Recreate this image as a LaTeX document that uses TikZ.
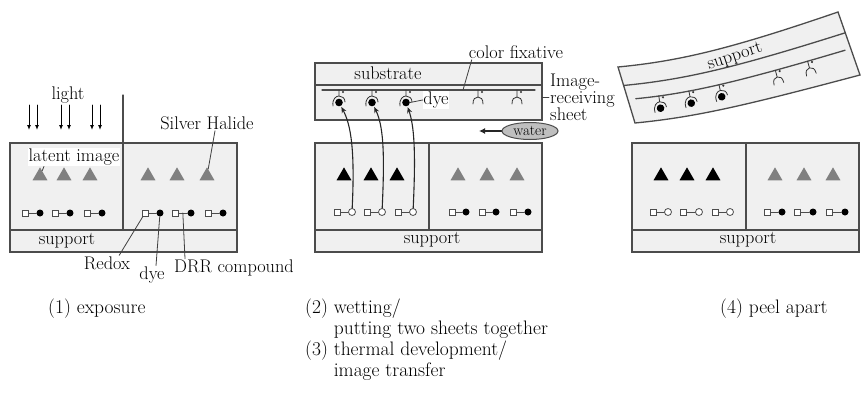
\documentclass[tikz,border=0pt]{standalone}
\usetikzlibrary{shapes.geometric,arrows.meta,calc}

\newcommand{\lblsize}{\fontsize{18.3}{17}\selectfont}
\newcommand{\capsize}{\fontsize{19.5}{21}\selectfont}

\begin{document}
\begin{tikzpicture}
		[x=1pt,y=-1pt,line cap=round,
		%Styles
		layer/.style={draw=black!70,fill=black!6,line width=1.3pt},
		sheet line/.style={draw=black!70,line width=1.3pt},
		grain/.style={regular polygon,regular polygon sides=3,fill=black!50,minimum size=17.3pt,inner sep=0pt},
		exposed/.style={grain,fill=black},
		redox/.style={rectangle,draw=black!70,fill=white,line width=0.8pt,minimum size=6pt,inner sep=0pt},
		dye dot/.style={circle,fill=black,minimum size=7pt,inner sep=0pt},
		spent/.style={circle,draw=black!70,fill=white,line width=0.8pt,minimum size=7pt,inner sep=0pt},
		link/.style={black!70,line width=1pt},
		info/.style={font=\lblsize,inner sep=1pt},
		caption/.style={font=\capsize,inner sep=0pt,align=left,anchor=north west},
		pointer/.style={black!75,line width=0.8pt},
		light ray/.style={line width=1pt,-{Latex[length=5pt,width=4pt]}},
		transfer/.style={black!85,line width=1.1pt,shorten >=5pt,-{Stealth[length=6pt,width=5pt]}},
		empty site/.pic={
			\draw[black!80,line width=0.8pt] (0,0) -- (0,7)
				(-5,14) .. controls (-5,9) and (-3,7) .. (0,7) .. controls (3,7) and (5,9) .. (5,14);
			\fill[black!80] (4,2) circle (1.2pt);},
		dyed site/.pic={
			\draw[black!80,line width=0.8pt] (0,0) -- (0,6)
				(-6,16) .. controls (-7,9) and (-3,6) .. (0,6) .. controls (3,6) and (6,8) .. (6,12);
			\fill[black!80] (4,2) circle (1.2pt);
			\fill (0,12.5) circle (3.8pt);
			\coordinate (-c) at (0,12.5);}
		]
		\useasboundingbox (0,0) rectangle (868,413);

		%(1) exposure
		\filldraw[layer] (10,143) rectangle (237,230);
		\filldraw[layer] (10,230) rectangle (237,252);
		\draw[sheet line] (123,95) -- (123,230);
		\foreach \x in {29,37,61,69,92,100}
			\draw[light ray] (\x,105) -- (\x,130);
		\foreach \x [count=\i] in {40,64,90,148,177,207}
			\node[grain] (t\i) at (\x,176) {};
		\foreach \s/\d [count=\i] in {25/40,55/70,87/102,145/160,175/191,208/223}{
			\node[redox] (a\i) at (\s,213) {};
			\node[dye dot] (b\i) at (\d,213) {};
			\draw[link] (a\i) -- coordinate (m\i) (b\i);
		}
		\node[info] (light) at (68,95) {light};
		\node[info,fill=white] (latent) at (74,157) {latent image};
		\node[info] (halide) at (207,123) {Silver Halide};
		\node[info] (sup1) at (67,241) {support};
		\node[info] (redoxlbl) at (107,263) {Redox};
		\node[info] (dyelbl) at (152,275) {dye};
		\node[info] (drr) at (234,268) {DRR compound};
		\draw[pointer] ([xshift=-30pt]latent.south) -- (t1);
		\draw[pointer] ([xshift=8pt]halide.south) -- (t6);
		\draw[pointer] ([xshift=-12pt]redoxlbl.north east) -- (a4);
		\draw[pointer] ([xshift=4pt]dyelbl.north) -- (b4);
		\draw[pointer] ([xshift=12pt]drr.north west) -- (m5);

		%(2)+(3) the two sheets
		\filldraw[layer] (315,63) rectangle (542,120);
		\draw[sheet line] (315,85) -- (542,85);
		\draw[sheet line] (322,90) -- (535,90);
		\foreach \x [count=\i] in {339,372,406}
			\pic (s\i) at (\x,90) {dyed site};
		\foreach \x in {478,517}
			\pic at (\x,90) {empty site};
		\node[info] (substr) at (388,73) {substrate};
		\node[info] (fixlbl) at (516,52) {color fixative};
		\node[info,fill=white,inner sep=0.5pt] (dyelbl2) at (436,100) {dye};
		\node[info,align=left,anchor=west] (recv) at (549,97) {Image-\\receiving\\sheet};
		\coordinate (fixpt) at (463,90);
		\coordinate (recvpt) at (542,97);
		\draw[pointer] ([xshift=4pt]fixlbl.south west) -- (fixpt);
		\draw[pointer] ([xshift=4pt]s3-c) -- (dyelbl2.west);
		\draw[pointer] (recvpt) -- (recv.west);
		\node[ellipse,draw=black!70,fill=black!25,line width=1pt,font=\fontsize{15}{16}\selectfont,
			minimum width=56pt,minimum height=17pt,inner sep=0pt] (water) at (530,131) {water};
		\coordinate (wtip) at (479,131);
		\draw[line width=1.2pt,black!85,-{Latex[length=6pt,width=6pt]}] (water) -- (wtip);

		\filldraw[layer] (315,143) rectangle (542,230);
		\filldraw[layer] (315,230) rectangle (542,252);
		\draw[sheet line] (429,143) -- (429,230);
		\foreach \x [count=\i] in {344,371,397}
			\node[exposed] (u\i) at (\x,176) {};
		\foreach \x [count=\i from 4] in {458,487,517}
			\node[grain] (u\i) at (\x,176) {};
		\foreach \s/\d [count=\i] in {337/352,367/382,398/413}{
			\node[redox] (c\i) at (\s,212) {};
			\node[spent] (h\i) at (\d,212) {};
			\draw[link] (c\i) -- (h\i);
		}
		\foreach \s/\d [count=\i from 4] in {452/466,482/496,513/528}{
			\node[redox] (c\i) at (\s,212) {};
			\node[dye dot] (d\i) at (\d,212) {};
			\draw[link] (c\i) -- (d\i);
		}
		\node[info] (sup2) at (432,240) {support};
		\draw[transfer] (h1) .. controls (355,150) and (351,125) .. (s1-c);
		\draw[transfer] (h2) .. controls (385,150) and (383,125) .. (s2-c);
		\draw[transfer] (h3) .. controls (416,150) and (414,125) .. (s3-c);

		%(4) peel apart
		\coordinate (TL) at (618,67);  \coordinate (BL) at (635,123);
		\coordinate (TR) at (838,12);  \coordinate (BR) at (860,75);
		\coordinate (C1t) at (680,61); \coordinate (C1b) at (697,117);
		\coordinate (C2t) at (730,49); \coordinate (C2b) at (747,105);
		\filldraw[layer] (TL) .. controls (C1t) and (C2t) .. (TR) -- (BR)
			.. controls (C2b) and (C1b) .. (BL) -- cycle;
		\draw[sheet line] ($(TL)!.33!(BL)$) .. controls ($(C1t)!.33!(C1b)$) and ($(C2t)!.33!(C2b)$) .. ($(TR)!.33!(BR)$);
		\path ($(TL)!.58!(BL)$) .. controls ($(C1t)!.58!(C1b)$) and ($(C2t)!.58!(C2b)$) .. ($(TR)!.58!(BR)$)
			coordinate[pos=.17] (p1) coordinate[pos=.335] (p2) coordinate[pos=.49] (p3)
			coordinate[pos=.74] (p4) coordinate[pos=.86] (p5);
		\draw[sheet line,shorten <=8pt,shorten >=6pt] ($(TL)!.58!(BL)$) .. controls ($(C1t)!.58!(C1b)$)
			and ($(C2t)!.58!(C2b)$) .. ($(TR)!.58!(BR)$);
		\pic[rotate=8] (r1) at (p1) {dyed site};
		\pic[rotate=11] (r2) at (p2) {dyed site};
		\pic[rotate=13] (r3) at (p3) {dyed site};
		\pic[rotate=15] at (p4) {empty site};
		\pic[rotate=16] at (p5) {empty site};
		\node[info,rotate=18] (peelsup) at (735,57) {support};

		\filldraw[layer] (632,143) rectangle (859,230);
		\filldraw[layer] (632,230) rectangle (859,252);
		\draw[sheet line] (746,143) -- (746,230);
		\foreach \x [count=\i] in {661,687,713}
			\node[exposed] (v\i) at (\x,176) {};
		\foreach \x [count=\i from 4] in {775,804,833}
			\node[grain] (v\i) at (\x,176) {};
		\foreach \s/\d [count=\i] in {653/668,683/699,715/730}{
			\node[redox] (e\i) at (\s,212) {};
			\node[spent] (g\i) at (\d,212) {};
			\draw[link] (e\i) -- (g\i);
		}
		\foreach \s/\d [count=\i from 4] in {767/782,797/813,829/845}{
			\node[redox] (e\i) at (\s,212) {};
			\node[dye dot] (f\i) at (\d,212) {};
			\draw[link] (e\i) -- (f\i);
		}
		\node[info] (sup3) at (748,240) {support};

		%Captions
		\node[caption] (cap1) at (48,299) {(1) exposure};
		\node[caption] (cap2) at (305,299) {(2) wetting/\\\phantom{(2) }putting two sheets together\\(3) thermal development/\\\phantom{(3) }image transfer};
		\node[caption] (cap4) at (720,299) {(4) peel apart};
	\end{tikzpicture}
\end{document}
